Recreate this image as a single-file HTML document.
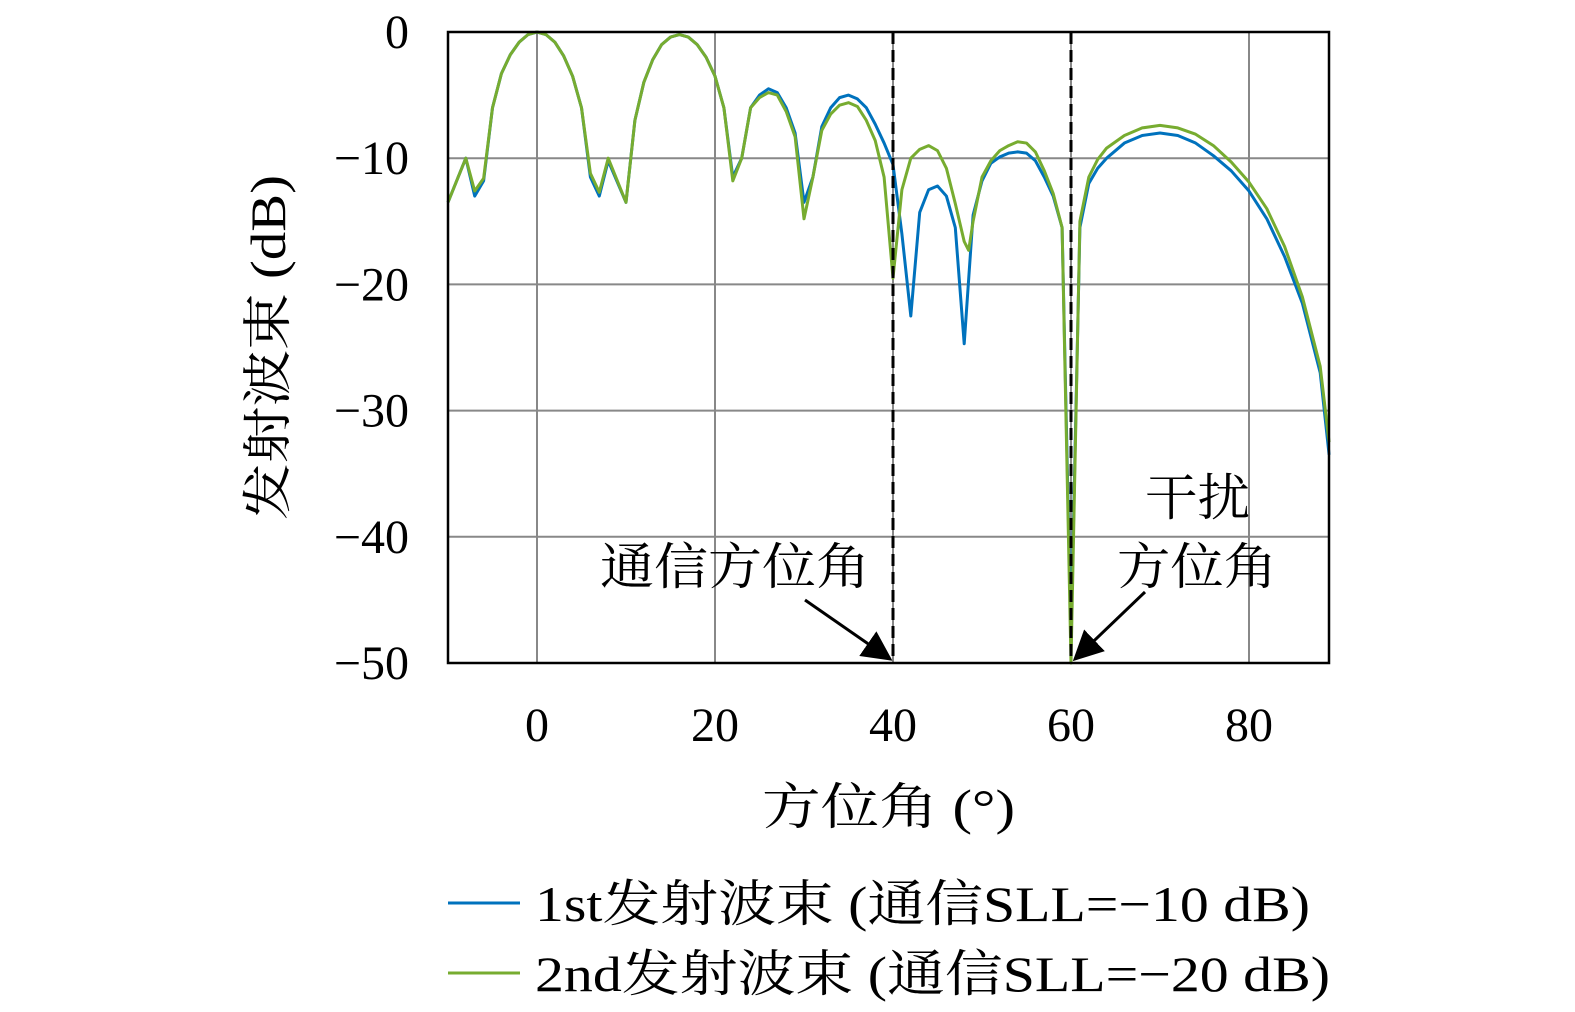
<!DOCTYPE html>
<html><head><meta charset="utf-8"><style>
body{margin:0;background:#fff;}
text{font-family:"Liberation Serif","Noto Serif CJK SC",serif;fill:#000;}
</style></head><body>
<svg width="1575" height="1012" style="position:absolute;left:0;top:0">
<g id="grid"></g>
<g id="series"></g>
<g id="axes"></g>
<g id="ann"></g>
</svg>
<script>
const xTicks=[0,20,40,60,80];
const yTicks=[0,-10,-20,-30,-40,-50];
const blueX=[-10,-8,-7,-6,-5,-4,-3,-2,-1,0,1,2,3,4,5,6,7,8,10,11,12,13,14,15,16,17,18,19,20,21,22,23,24,25,26,27,28,29,30,31,32,33,34,35,36,37,38,39,40,41,42,43,44,45,46,47,48,49,50,51,52,53,54,55,56,57,58,59,60,61,62,63,64,66,68,70,72,74,76,78,80,82,84,86,88,89];
const blueY=[-13.5,-10,-13,-11.8,-6,-3.3,-1.8,-0.8,-0.2,0,-0.2,-0.8,-1.9,-3.5,-6,-11.5,-13,-10.2,-13.5,-7,-4,-2.2,-1,-0.4,-0.2,-0.4,-1,-2,-3.5,-6,-11.5,-10,-6,-5,-4.5,-4.8,-6,-8,-13.5,-11.5,-7.5,-6,-5.2,-5,-5.3,-6,-7.3,-8.8,-10.5,-16,-22.5,-14.3,-12.5,-12.2,-13,-15.5,-24.7,-14.5,-11.8,-10.4,-9.9,-9.6,-9.5,-9.6,-10.2,-11.5,-13,-15.5,-48,-15.5,-12,-10.8,-10,-8.8,-8.2,-8,-8.2,-8.8,-9.8,-11,-12.6,-14.8,-17.8,-21.5,-27,-33.5];
const greenX=[-10,-8,-7,-6,-5,-4,-3,-2,-1,0,1,2,3,4,5,6,7,8,10,11,12,13,14,15,16,17,18,19,20,21,22,23,24,25,26,27,28,29,30,31,32,33,34,35,36,37,38,39,40,41,42,43,44,45,46,47,48,48.5,49,50,51,52,53,54,55,56,57,58,59,60,61,62,63,64,66,68,70,72,74,76,78,80,82,84,86,88,89];
const greenY=[-13.5,-10,-12.6,-11.6,-6,-3.3,-1.8,-0.8,-0.2,0,-0.2,-0.8,-1.9,-3.5,-6,-11.2,-12.7,-10,-13.5,-7,-4,-2.2,-1,-0.4,-0.2,-0.4,-1,-2,-3.5,-6,-11.8,-10,-6,-5.2,-4.8,-5,-6.3,-8.3,-14.8,-11.5,-7.8,-6.5,-5.8,-5.6,-5.9,-7,-8.6,-11.5,-19.5,-12.5,-10,-9.3,-9,-9.4,-10.8,-13.6,-16.6,-17.3,-15,-11.5,-10.2,-9.4,-9,-8.7,-8.8,-9.5,-11,-12.8,-15.5,-50,-15,-11.5,-10.1,-9.2,-8.2,-7.6,-7.4,-7.6,-8.1,-9,-10.3,-11.9,-14,-17,-21,-26.5,-32.5];
const X0=448,X1=1329,Y0=32,Y1=663;
const sx=v=>537+(v-0)*8.9;
const sy=v=>Y0+(0-v)*(Y1-Y0)/50;
const NS="http://www.w3.org/2000/svg";
function mk(t,a,p){const e=document.createElementNS(NS,t);for(const k in a)e.setAttribute(k,a[k]);p.appendChild(e);return e;}
const grid=document.getElementById('grid'),axes=document.getElementById('axes'),ser=document.getElementById('series'),ann=document.getElementById('ann');
xTicks.forEach(v=>{const l=mk('line',{x1:sx(v),x2:sx(v),y1:Y0,y2:Y1,stroke:'#888','stroke-width':2},grid);

const t=mk('text',{x:sx(v),y:741,'font-size':48,'text-anchor':'middle'},axes);t.textContent=v;
});
yTicks.forEach(v=>{const l=mk('line',{x1:X0,x2:X1,y1:sy(v),y2:sy(v),stroke:'#888','stroke-width':2},grid);

const t=mk('text',{x:409,y:sy(v)+16,'font-size':48,'text-anchor':'end'},axes);t.textContent=(v<0?'\u2212'+(-v):v);
});
const fr=mk('rect',{x:X0,y:Y0,width:X1-X0,height:Y1-Y0,fill:'none',stroke:'#000','stroke-width':2.5},axes);

[40,60].forEach(v=>{const l=mk('line',{x1:sx(v),x2:sx(v),y1:Y0,y2:Y1,stroke:'#000','stroke-width':3,'stroke-dasharray':'12,6'},ann);
});
function line(xs,ys,c,name){const p=mk('polyline',{points:xs.map((x,i)=>sx(x)+','+sy(ys[i])).join(' '),fill:'none',stroke:c,'stroke-width':3,'stroke-linejoin':'round'},ser);
}
line(blueX,blueY,'#0072bd','series-1st-beam');
line(greenX,greenY,'#77ac30','series-2nd-beam');
</script>
<svg width="1575" height="1012" style="position:absolute;left:0;top:0">
<defs><marker id="ah" markerWidth="10" markerHeight="10" refX="9" refY="5" orient="auto"><path d="M0,0 L10,5 L0,10 z" fill="#000"/></marker></defs>
<line x1="805" y1="600" x2="890" y2="659" stroke="#000" stroke-width="3" marker-end="url(#ah)"/>
<line x1="1145" y1="592" x2="1075" y2="659" stroke="#000" stroke-width="3" marker-end="url(#ah)"/>
<text x="600" y="584" font-size="50" textLength="270" lengthAdjust="spacingAndGlyphs">通信方位角</text>
<text x="1145" y="515" font-size="50" textLength="105" lengthAdjust="spacingAndGlyphs">干扰</text>
<text x="1117" y="584" font-size="50" textLength="160" lengthAdjust="spacingAndGlyphs">方位角</text>
<text x="762" y="824" font-size="50" textLength="253" lengthAdjust="spacingAndGlyphs">方位角 (°)</text>
<text transform="translate(285,520) rotate(-90)" font-size="50" textLength="345" lengthAdjust="spacingAndGlyphs">发射波束 (dB)</text>
<line x1="448" y1="903" x2="520" y2="903" stroke="#0072bd" stroke-width="3"/>
<text x="535" y="921" font-size="50" textLength="775" lengthAdjust="spacingAndGlyphs">1st发射波束 (通信SLL=−10 dB)</text>
<line x1="448" y1="973" x2="520" y2="973" stroke="#77ac30" stroke-width="3"/>
<text x="535" y="991" font-size="50" textLength="795" lengthAdjust="spacingAndGlyphs">2nd发射波束 (通信SLL=−20 dB)</text>
</svg>
</body></html>
